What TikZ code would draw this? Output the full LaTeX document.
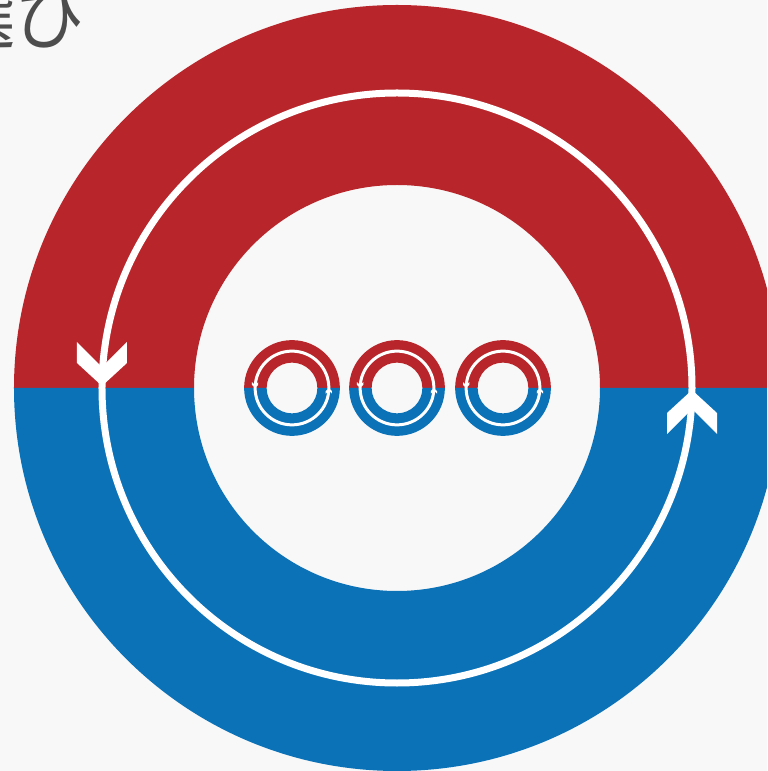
\documentclass[tikz,border=0pt]{standalone}
\usepackage{fontspec}
\newfontfamily\jpfont{Noto Sans CJK JP}
\definecolor{ringred}{HTML}{B8262B}
\definecolor{ringblue}{HTML}{0B72B8}
\definecolor{bggray}{HTML}{F8F8F8}
\definecolor{textgray}{HTML}{4D4D4D}

% one ring with its flow arrows, #1 = centre, #2 = scale, #3 = half width of the white line
\newcommand\flowring[3]{%
  \begin{scope}[shift={#1},scale=#2]
    \fill[ringred] (3.83,0) arc (0:180:3.83) -- (-2.03,0) arc (180:0:2.03) -- cycle;
    \fill[ringblue] (3.83,0) arc (0:-180:3.83) -- (-2.03,0) arc (-180:0:2.03) -- cycle;
    \fill[white,even odd rule] (0,0) circle ({2.95+#3}) (0,0) circle ({2.95-#3});
    \fill[white,shift={(-2.95,.02)}] (0,0) -- (-.25,.23) -- (-.25,.44) -- (0,.19)
      -- (.25,.44) -- (.25,.23) -- cycle;
    \fill[white,shift={(2.95,-.02)},rotate=180] (0,0) -- (-.25,.23) -- (-.25,.44)
      -- (0,.19) -- (.25,.44) -- (.25,.23) -- cycle;
  \end{scope}}

\begin{document}
\begin{tikzpicture}
  \fill[bggray] (-3.97,-3.83) rectangle (3.70,3.88);
  \useasboundingbox (-3.97,-3.83) rectangle (3.70,3.88);
  \clip (-3.97,-3.83) rectangle (3.70,3.88);

  \node[anchor=base east,inner sep=0pt,text=textgray,font=\jpfont\fontsize{20}{22}\selectfont]
    (title) at (-3.10,3.44) {選び};

  \flowring{(0,0)}{1}{.035}
  \flowring{(-1.05,0)}{.125}{.12}
  \flowring{(0,0)}{.125}{.12}
  \flowring{(1.06,0)}{.125}{.12}
\end{tikzpicture}
\end{document}
